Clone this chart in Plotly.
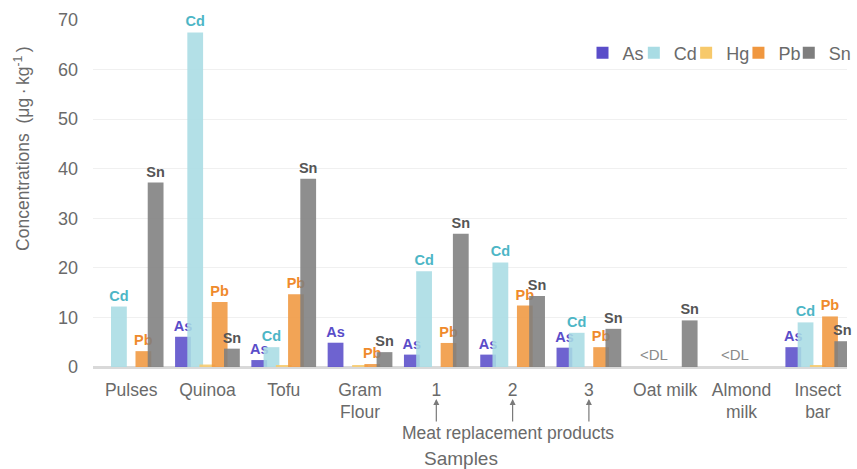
import plotly.graph_objects as go

categories = ["Pulses", "Quinoa", "Tofu", "Gram<br>Flour", "1", "2", "3",
              "Oat milk", "Almond<br>milk", "Insect<br>bar"]
series_names = ["As", "Cd", "Hg", "Pb", "Sn"]
As = [None, 6.1, 1.4, 4.9, 2.5, 2.5, 3.9, None, None, 4.0]
Cd = [12.2, 67.5, 4.0, None, 19.3, 21.1, 6.9, None, None, 9.0]
Hg = [None, 0.5, 0.25, 0.25, None, None, None, None, None, 0.3]
Pb = [3.2, 13.1, 14.7, 0.6, 4.85, 12.4, 4.0, None, None, 10.2]
Sn = [37.2, 3.7, 38.0, 3.0, 26.9, 14.3, 7.7, 9.4, None, 5.2]
values = [As, Cd, Hg, Pb, Sn]
bar_colors = ["#5A4DC9", "#A9DCE4", "#F7C96B", "#F0973F", "#7E7E7E"]
label_colors = ["#5A4DC9", "#4DB6C6", None, "#EF8A2C", "#555555"]
show_labels = [True, True, False, True, True]
y_ticks = [0, 10, 20, 30, 40, 50, 60, 70]
below_dl = ["Oat milk", "Almond<br>milk"]
meat_product_index = [4, 5, 6]

FONT = "Liberation Sans, Arial, sans-serif"
GRAY = "#6A6A6A"

bar_w = 0.207
step = 0.1604
PLOT_L, PLOT_W, PLOT_T, PLOT_H = 93, 764, 20, 347

def px_x(x):
    return (x - PLOT_L) / PLOT_W

def px_y(y):
    return (PLOT_T + PLOT_H - y) / PLOT_H

legend_px = [589, 641, 694, 747, 798]

fig = go.Figure()
layout_legends = {}
for i, (name, vals) in enumerate(zip(series_names, values)):
    texts = [("<b>%s</b>" % name) if (show_labels[i] and v is not None) else "" for v in vals]
    lg = "legend" if i == 0 else "legend%d" % (i + 1)
    fig.add_trace(go.Bar(
        name=name, x=categories, y=vals, legend=lg,
        width=bar_w, offset=-bar_w / 2 + (i - 2) * step,
        marker=dict(color=bar_colors[i], opacity=0.88, line=dict(width=0)),
        text=texts, textposition="outside", constraintext="none", cliponaxis=False,
        textfont=dict(family=FONT, size=14.5, color=label_colors[i] or "#000"),
        hoverinfo="x+y+name",
    ))
    layout_legends[lg] = dict(orientation="h", x=px_x(legend_px[i]), xanchor="left",
                              y=px_y(53), yanchor="middle",
                              font=dict(family=FONT, size=18, color=GRAY), itemwidth=30,
                              bgcolor="rgba(0,0,0,0)")

annotations = []
shifts = [-11, -6]
for c, s in zip(below_dl, shifts):
    annotations.append(dict(x=c, y=2.6, xref="x", yref="y", text="&lt;DL", showarrow=False,
                            xshift=s, xanchor="center", yanchor="middle",
                            font=dict(family=FONT, size=15, color="#8A8A8A")))
for c in meat_product_index:
    annotations.append(dict(x=c, y=px_y(399), xref="x", yref="paper", text="", showarrow=True,
                            ax=0, ay=24, arrowhead=2, arrowsize=1, arrowwidth=1.2,
                            arrowcolor="#7A7A7A"))
annotations.append(dict(x=px_x(513), y=px_y(433), xref="paper", yref="paper",
                        xanchor="center", yanchor="middle",
                        text="Meat replacement products", showarrow=False,
                        font=dict(family=FONT, size=17.5, color=GRAY)))
annotations.append(dict(x=px_x(466), y=px_y(458), xref="paper", yref="paper",
                        xanchor="center", yanchor="middle",
                        text="Samples", showarrow=False,
                        font=dict(family=FONT, size=19, color=GRAY)))
annotations.append(dict(x=px_x(21), y=px_y(148), xref="paper", yref="paper",
                        xanchor="center", yanchor="middle",
                        text="Concentrations&nbsp;&nbsp;(μg&#8201;·&#8201;kg<sup>-1</sup>&#8201;)",
                        showarrow=False, textangle=-90,
                        font=dict(family=FONT, size=17.5, color=GRAY)))

fig.update_layout(
    width=857, height=469,
    margin=dict(l=PLOT_L, r=0, t=PLOT_T, b=469 - PLOT_T - PLOT_H),
    barmode="overlay",
    plot_bgcolor="white", paper_bgcolor="white",
    font=dict(family=FONT, color=GRAY),
    showlegend=True,
    xaxis=dict(type="category", range=[-0.5, 9.383], showgrid=False, showline=False,
               ticks="", tickfont=dict(family=FONT, size=17.5, color=GRAY),
               ticklabelstandoff=10, fixedrange=True),
    yaxis=dict(range=[0, 70], tickvals=y_ticks, showgrid=True, gridcolor="#F0F0F0", gridwidth=1,
               zeroline=True, zerolinecolor="#D9D9D9", zerolinewidth=2.5, showline=False,
               ticks="", tickfont=dict(family=FONT, size=18, color=GRAY),
               ticklabelstandoff=14, fixedrange=True),
    annotations=annotations,
    **layout_legends,
)

fig.write_html("out.html")
